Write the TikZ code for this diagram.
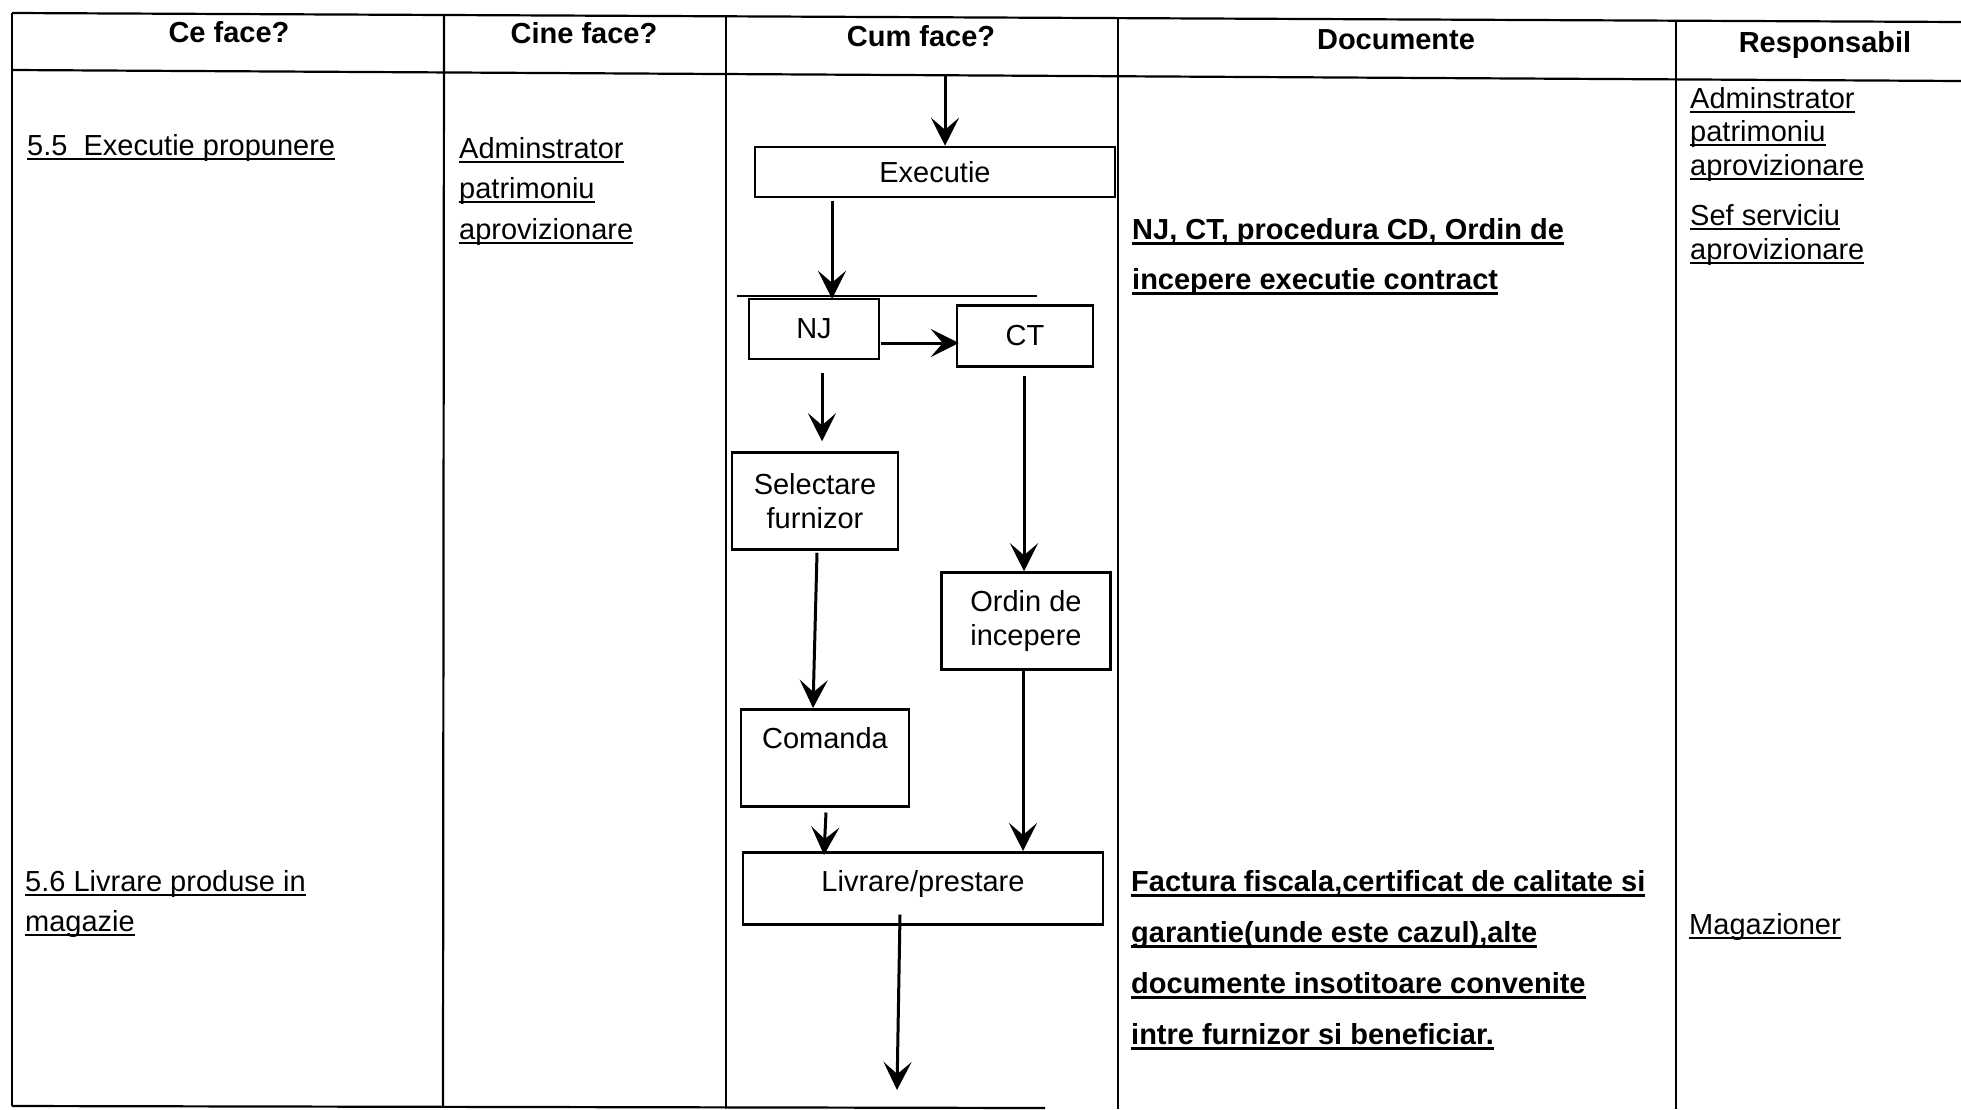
\documentclass[tikz,border=0pt]{standalone}
\usepackage{fontspec}
\setmainfont{Liberation Sans}
\usepackage{tikz}
\usetikzlibrary{arrows.meta,calc}

\newcommand{\undl}[1]{\setbox0=\hbox{#1}\rlap{\vrule width\wd0 height -0.09em depth 0.16em}\box0}
\newcommand{\undlb}[1]{\setbox0=\hbox{#1}\rlap{\vrule width\wd0 height -0.09em depth 0.19em}\box0}

\begin{document}
\begin{tikzpicture}[x=1pt, y=-1pt, font=\fontsize{29}{34}\selectfont,
    tab/.style={line width=2.2pt},
    box/.style={draw, line width=2.5pt, inner sep=0pt, align=center},
    arr/.style={line width=3pt, -{Stealth[length=28pt, width=28pt, inset=12pt]}},
    head/.style={font=\fontsize{29}{34}\selectfont\bfseries, anchor=base},
    txt/.style={anchor=north west, inner sep=0pt, align=left}]
            \useasboundingbox (0,0) rectangle (1961,1109);
            \draw [tab] (12,13) -- (1961,22);          %tabel
            \draw [tab] (12,70) -- (1961,81);
            \draw [tab] (12,1106) -- (1045,1108);
            \draw [tab] (12,13) -- (12,1106);
            \draw [tab] (444,15) -- (443,1107);
            \draw [tab] (726,16) -- (726,1107);
            \draw [tab] (1118,18) -- (1118,1109);
            \draw [tab] (1676,20) -- (1676,1109);
            \node [head] (hce) at (229,42) {Ce face?};       %antet
            \node [head] (hcine) at (584,43) {Cine face?};
            \node [head] (hcum) at (921,46) {Cum face?};
            \node [head] (hdoc) at (1396,49) {Documente};
            \node [head] (hresp) at (1825,52) {Responsabil};
            \node [anchor=base west, inner sep=0pt] (t55) at (27,155) {\undl{5.5\ \ Executie propunere}};
            \node [txt, font=\fontsize{29}{40}\selectfont] (t56) at (25,870) {\undl{5.6 Livrare produse in}\\\undl{magazie}};
            \node [txt, font=\fontsize{29}{40.5}\selectfont] (cine) at (459,137) {\undl{Adminstrator}\\\undl{patrimoniu}\\\undl{aprovizionare}};
            \node [txt, font=\fontsize{29}{50}\selectfont\bfseries] (doc1) at (1132,218) {\undlb{NJ, CT, procedura CD, Ordin de}\\\undlb{incepere executie contract}};
            \node [txt, font=\fontsize{29}{51}\selectfont\bfseries] (doc2) at (1131,870) {\undlb{Factura fiscala,certificat de calitate si}\\\undlb{garantie(unde este cazul),alte}\\\undlb{documente insotitoare convenite}\\\undlb{intre furnizor si beneficiar.}};
            \node [txt, font=\fontsize{29}{33.5}\selectfont] (resp1) at (1690,87) {\undl{Adminstrator}\\\undl{patrimoniu}\\\undl{aprovizionare}};
            \node [txt, font=\fontsize{29}{34}\selectfont] (resp2) at (1690,204) {\undl{Sef serviciu}\\\undl{aprovizionare}};
            \node [anchor=base west, inner sep=0pt] (resp3) at (1689,934) {\undl{Magazioner}};
            \node [box, minimum width=360pt, minimum height=50pt] (exec) at (935,172) {Executie};   %schema
            \node [box, minimum width=130pt, minimum height=60pt] (nj) at (814,329) {NJ};
            \node [box, minimum width=136pt, minimum height=61pt] (ct) at (1025,336) {CT};
            \node [box, minimum width=166pt, minimum height=97pt] (sel) at (815,501) {Selectare\\furnizor};
            \node [box, minimum width=169pt, minimum height=97pt] (ord) at (1026,621) {Ordin de\\incepere};
            \node [box, anchor=north, minimum width=168pt, text height=39pt, text depth=58pt] (com) at (825,708) {Comanda};
            \node [box, anchor=north, minimum width=360pt, text height=39pt, text depth=33pt] (liv) at (923,851) {Livrare/prestare};
            \draw [tab] ($(nj.north west)+(-11,-2)$) -- ++(300,0);
            \coordinate (top) at (945,75);
            \coordinate (end) at (897,1090);
            \draw [arr] (top) -- (top |- exec.north);
            \draw [arr] ($(nj.north |- exec.south)+(18,3)$) -- ($(nj.north)+(18,1)$);
            \draw [arr] ($(nj.east)+(1,14)$) -- ($(ct.west |- nj.east)+(3,14)$);
            \draw [arr] ($(nj.south)+(8,13)$) -- ($(sel.north -| nj.south)+(8,-10)$);
            \draw [arr] ($(ct.south)+(-1,8)$) -- ($(ord.north -| ct.south)+(-1,0)$);
            \draw [arr] ($(sel.south)+(2,2)$) -- ($(com.north)+(-12,0)$);
            \draw [arr] ($(ord.south)+(-3,0)$) -- ($(liv.north -| ord.south)+(-3,0)$);
            \draw [arr] ($(com.south)+(1,5)$) -- ($(liv.north -| com.south)+(-1,4)$);
            \draw [arr] ($(liv.south)+(-23,-11)$) -- (end);
        \end{tikzpicture}
\end{document}
